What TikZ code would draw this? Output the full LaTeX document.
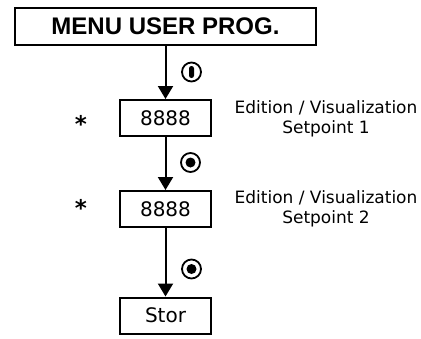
\documentclass[tikz,border=0pt]{standalone}
\usepackage{fontspec}
\setmainfont{DejaVu Sans}
\newfontfamily\titlefont{Liberation Sans}
\usetikzlibrary{arrows.meta}
\begin{document}
\begin{tikzpicture}[x=1pt,y=-1pt,
  stepbox/.style={draw,line width=2pt,inner sep=0pt,minimum width=91pt,minimum height=36pt,
    font=\fontsize{20}{24}\selectfont},
  flow/.style={line width=2pt,-{Triangle[length=13pt,width=15pt]}},
  note/.style={align=center,anchor=base,font=\fontsize{17}{20}\selectfont},
  mark star/.style={font=\bfseries\fontsize{23}{27}\selectfont,inner sep=0pt,anchor=base},
  key/.style={circle,draw,line width=1.8pt,minimum size=19pt,inner sep=0pt}]
\useasboundingbox (0,0) rectangle (421,338);

% menu header and the three steps
\node[draw,line width=2pt,inner sep=0pt,minimum width=301pt,minimum height=37.5pt,
  font=\titlefont\bfseries\fontsize{24}{28}\selectfont] (menu) at (165.5,26.25) {MENU USER PROG.};
\node[stepbox] (sp1) at (165.5,118) {8888};
\node[stepbox] (sp2) at (165.5,209) {8888};
\node[stepbox] (stor) at (165.5,315.5) {Stor};

% connectors
\draw[flow] (menu) -- (sp1);
\draw[flow] (sp1) -- (sp2);
\draw[flow] (sp2) -- (stor);

% key symbols beside the connectors
\node[key] (k1) at (191.5,72) {};
\fill[rounded corners=2.4pt] ([xshift=-2.5pt,yshift=-6pt]k1.center) rectangle ([xshift=2.5pt,yshift=6pt]k1.center);
\node[key] (k2) at (190.5,162.5) {};
\fill (k2.center) circle (5pt);
\node[key] (k3) at (191.5,269) {};
\fill (k3.center) circle (5pt);

% stars and descriptions
\node[mark star] (st1) at (81,132) {*};
\node[mark star] (st2) at (81,216) {*};
\node[note] (n1) at (326,133) {Edition / Visualization\\Setpoint 1};
\node[note] (n2) at (326,223) {Edition / Visualization\\Setpoint 2};
\end{tikzpicture}
\end{document}
